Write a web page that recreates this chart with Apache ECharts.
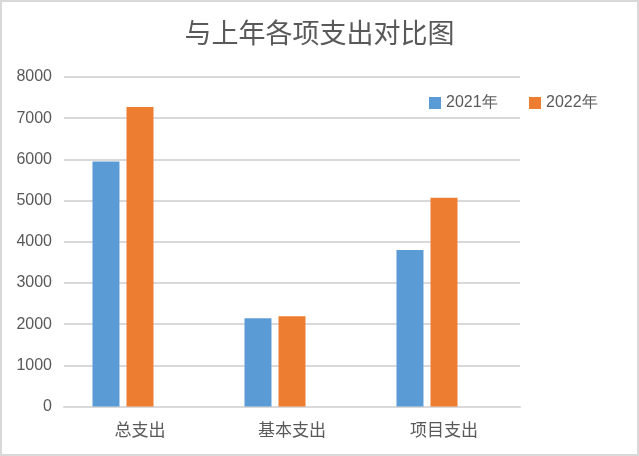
<!DOCTYPE html>
<html>
<head>
<meta charset="utf-8">
<script src="https://cdn.jsdelivr.net/npm/echarts@6/dist/echarts.min.js"></script>
<style>
html,body{margin:0;padding:0;background:#fff;}
#c{width:639px;height:456px;}
</style>
</head>
<body>
<div id="c"></div>
<script>
const categories = ['总支出', '基本支出', '项目支出'];
const series2021 = [5950, 2140, 3800];
const series2022 = [7270, 2190, 5070];
const seriesNames = ['2021年', '2022年'];
const yTicks = { min: 0, max: 8000, interval: 1000 };

const chart = echarts.init(document.getElementById('c'), null, { renderer: 'canvas' });
const txt = '#595959';
const latin = '"Liberation Sans", Arial, sans-serif';
const cjk = '"Noto Sans CJK SC", sans-serif';

chart.setOption({
  backgroundColor: '#ffffff',
  animation: false,
  title: {
    text: '与上年各项支出对比图',
    left: 'center',
    top: 19,
    padding: 0,
    textStyle: { fontFamily: cjk, fontSize: 27, fontWeight: 'normal', color: txt }
  },
  graphic: [{
    type: 'rect',
    shape: { x: 1, y: 1, width: 637, height: 454 },
    style: { fill: 'none', stroke: '#d9d9d9', lineWidth: 2 },
    silent: true
  }],
  legend: [{
    data: [seriesNames[0]],
    left: 429, top: 95, padding: 0,
    itemWidth: 12, itemHeight: 12, icon: 'rect',
    textStyle: { fontFamily: latin, fontSize: 16, color: txt }
  }, {
    data: [seriesNames[1]],
    left: 529, top: 95, padding: 0,
    itemWidth: 12, itemHeight: 12, icon: 'rect',
    textStyle: { fontFamily: latin, fontSize: 16, color: txt }
  }],
  grid: { left: 64, right: 119, top: 77, bottom: 49.5, containLabel: false },
  xAxis: {
    type: 'category',
    data: categories,
    axisLine: { lineStyle: { color: '#d9d9d9', width: 2 } },
    axisTick: { show: false },
    axisLabel: { fontFamily: cjk, fontSize: 17, color: txt, margin: 15 }
  },
  yAxis: {
    type: 'value',
    min: yTicks.min, max: yTicks.max, interval: yTicks.interval,
    axisLine: { show: false },
    axisTick: { show: false },
    axisLabel: { fontFamily: latin, fontSize: 16, color: txt, margin: 12, formatter: v => String(v) },
    splitLine: { lineStyle: { color: '#d9d9d9', width: 2 } }
  },
  series: [
    { name: seriesNames[0], type: 'bar', data: series2021, barWidth: 27, barGap: '26%', itemStyle: { color: '#5B9BD5' } },
    { name: seriesNames[1], type: 'bar', data: series2022, barWidth: 27, barGap: '26%', itemStyle: { color: '#ED7D31' } },
    { name: 'blank', type: 'bar', data: categories.map(() => null), barWidth: 27, barGap: '26%', itemStyle: { color: '#A5A5A5' } }
  ]
});
</script>
</body>
</html>
